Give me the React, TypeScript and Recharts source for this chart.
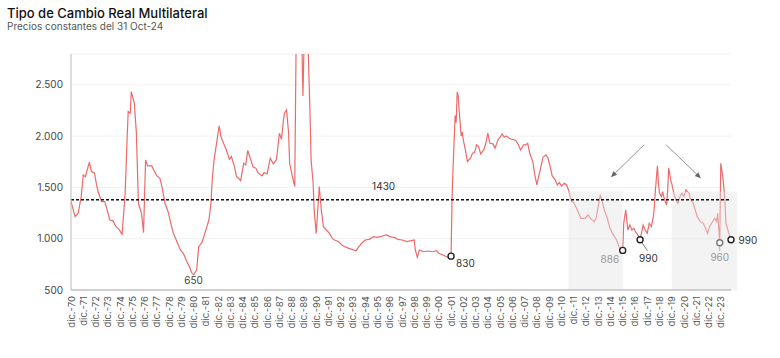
import React from "react";
import {
  CartesianGrid,
  Line,
  LineChart,
  ReferenceArea,
  ReferenceDot,
  ReferenceLine,
  XAxis,
  YAxis,
} from "recharts";

// [meses desde dic-70, índice]
const tramo70a81: [number, number][] = [
  [0, 1361], [4, 1215], [7, 1248], [10, 1410], [12, 1621], [14, 1605], [18, 1745], [20, 1654],
  [23, 1638], [25, 1524], [27, 1443], [30, 1361], [33, 1361], [35, 1296], [38, 1182], [41, 1176],
  [44, 1117], [47, 1091], [50, 1043], [53, 1443], [55, 1996], [56, 2239], [58, 2223], [59, 2434],
  [62, 2321], [64, 2028], [66, 1345], [69, 1248], [71, 1059], [72, 1410], [73, 1768], [75, 1709],
  [79, 1709], [81, 1670], [84, 1612], [87, 1589], [89, 1508], [92, 1345], [95, 1264], [97, 1182],
  [100, 1059], [103, 987], [107, 890], [110, 857], [113, 786], [116, 727], [118, 670], [120, 648],
  [123, 695], [125, 922], [128, 961],
];

const tramo81a91: [number, number][] = [
  [130, 1020], [133, 1117], [135, 1182], [137, 1345], [138, 1540], [140, 1768], [142, 1898],
  [145, 2100], [147, 1989], [150, 1914], [152, 1865], [155, 1774], [157, 1800], [160, 1703],
  [162, 1605], [164, 1589], [166, 1566], [169, 1735], [171, 1719], [173, 1859], [176, 1768],
  [178, 1703], [181, 1686], [183, 1644], [187, 1612], [189, 1644], [192, 1631], [195, 1784],
  [198, 1729], [201, 1768], [203, 1937], [204, 2028], [206, 1969], [208, 2158], [209, 2223],
  [211, 2256], [213, 2028], [214, 1735], [217, 1589], [219, 1508], [221, 3600], [223, 4500],
  [225, 3700], [226, 2900], [227, 2390], [229, 3300], [230, 4100], [231, 3500], [232, 2900],
  [234, 2200], [235, 1768], [237, 1540], [238, 1280], [240, 1052], [243, 1508], [245, 1280],
  [247, 1117], [250, 1085], [253, 1052], [256, 1000],
];

const tramo91a01: [number, number][] = [
  [258, 987], [262, 971], [265, 939], [268, 922], [272, 906], [275, 896], [279, 883], [281, 913],
  [285, 961], [288, 987], [292, 994], [296, 1020], [300, 1013], [305, 1026], [309, 1036],
  [312, 1020], [317, 1010], [320, 994], [324, 987], [329, 971], [333, 981], [336, 987], [337, 890],
  [339, 818], [341, 890], [345, 873], [349, 880], [354, 873], [358, 883], [360, 857], [364, 841],
  [369, 818], [372, 830],
];

const tramo02a11: [number, number][] = [
  [373, 1400], [374, 1700], [375, 1950], [376, 2200], [377, 2130], [378, 2430], [379, 2390],
  [380, 2240], [381, 2110], [382, 2000], [383, 2040], [384, 1960], [386, 1865], [388, 1752],
  [391, 1784], [393, 1833], [395, 1839], [397, 1914], [399, 1898], [401, 1826], [404, 1865],
  [406, 1930], [408, 2028], [410, 1930], [413, 1924], [415, 1882], [418, 1963], [420, 1989],
  [422, 2021], [424, 1989], [426, 2002], [429, 1979], [431, 1969], [434, 1963], [436, 1947],
  [438, 1914], [440, 1865], [443, 1914], [445, 1914], [447, 1930], [449, 1833], [452, 1752],
  [454, 1622], [456, 1524], [457, 1573], [460, 1703], [462, 1794], [465, 1817], [467, 1784],
  [469, 1703], [471, 1612], [474, 1573], [476, 1524], [478, 1547], [480, 1514], [483, 1540],
  [485, 1524],
];

const tramo11a24: [number, number][] = [
  [487, 1475], [490, 1361], [492, 1352], [494, 1313], [497, 1248], [499, 1199], [503, 1199],
  [506, 1231], [509, 1190], [512, 1166], [514, 1199], [516, 1313], [518, 1426], [520, 1361],
  [522, 1280], [525, 1199], [527, 1117], [530, 1052], [532, 1020], [534, 987], [537, 906],
  [540, 886], [541, 1150], [543, 1280], [545, 1085], [547, 1134], [549, 1085], [551, 1101],
  [553, 1059], [555, 1036], [557, 990], [559, 1085], [560, 1134], [562, 1085], [564, 1052],
  [566, 1150], [568, 1117], [570, 1215], [571, 1313], [572, 1475], [574, 1710], [575, 1540],
  [576, 1443], [578, 1410], [579, 1459], [581, 1378], [583, 1329], [584, 1475], [585, 1690],
  [587, 1573], [588, 1540], [590, 1443], [592, 1378], [594, 1345], [596, 1410], [598, 1443],
  [600, 1410], [602, 1475], [605, 1443], [606, 1394], [609, 1345], [611, 1280], [613, 1215],
  [616, 1166], [619, 1150], [621, 1101], [623, 1052], [625, 1117], [627, 1150], [630, 1199],
  [632, 1166], [633, 1248], [635, 960], [636, 1735], [638, 1605], [640, 1378], [641, 1150],
  [644, 1052], [645, 1020], [646, 990],
];

const etiquetasX = [
  "dic.-70", "dic.-71", "dic.-72", "dic.-73", "dic.-74", "dic.-75", "dic.-76", "dic.-77", "dic.-78",
  "dic.-79", "dic.-80", "dic.-81", "dic.-82", "dic.-83", "dic.-84", "dic.-85", "dic.-86", "dic.-87",
  "dic.-88", "dic.-89", "dic.-90", "dic.-91", "dic.-92", "dic.-93", "dic.-94", "dic.-95", "dic.-96",
  "dic.-97", "dic.-98", "dic.-99", "dic.-00", "dic.-01", "dic.-02", "dic.-03", "dic.-04", "dic.-05",
  "dic.-06", "dic.-07", "dic.-08", "dic.-09", "dic.-10", "dic.-11", "dic.-12", "dic.-13", "dic.-14",
  "dic.-15", "dic.-16", "dic.-17", "dic.-18", "dic.-19", "dic.-20", "dic.-21", "dic.-22", "dic.-23",
];
const ticksY = [500, 1000, 1500, 2000, 2500];

const promedio = 1380;
const etiquetaPromedio = "1430";

// períodos con cepo cambiario
const cepos: [number, number][] = [
  [487, 540],
  [588, 652],
];
const topeCepo = 1460;

const puntosDestacados = [
  { mes: 120, valor: 648, texto: "650" },
  { mes: 372, valor: 830, texto: "830" },
  { mes: 540, valor: 886, texto: "886" },
  { mes: 557, valor: 990, texto: "990" },
  { mes: 635, valor: 960, texto: "960" },
  { mes: 646, valor: 990, texto: "990" },
];

const flechas = [
  { desde: [561, 1915], hasta: [528.5, 1600] },
  { desde: [582.5, 1915], hasta: [616.5, 1590] },
];

const serie = [...tramo70a81, ...tramo81a91, ...tramo91a01, ...tramo02a11, ...tramo11a24].map(
  ([mes, valor]) => ({ mes, valor })
);

// ajustes visuales de cada etiqueta (mismo orden que puntosDestacados)
const estiloEtiquetas = [
  { circulo: false, dx: 0, dy: 9.5, anchor: "middle", color: "#444" },
  { circulo: true, dx: 5, dy: 11, anchor: "start", color: "#333" },
  { circulo: true, dx: -3.5, dy: 12.5, anchor: "end", color: "#999" },
  { circulo: true, dx: -1, dy: 22, anchor: "start", color: "#333", guia: [1.5, 2.5, 7.5, 11] },
  { circulo: true, dx: 0, dy: 18, anchor: "middle", color: "#999", guia: [0, 3.5, 0, 8], gris: true },
  { circulo: true, dx: 7.5, dy: 4.5, anchor: "start", color: "#333" },
];

const FUENTE = "Inter, 'Noto Sans', sans-serif";

function miles(v: number) {
  if (v < 1000) return String(v);
  return `${Math.floor(v / 1000)}.${String(v % 1000).padStart(3, "0")}`;
}

function TickX(props: any) {
  const { x, y, payload } = props;
  const label = etiquetasX[Math.round(payload.value / 12)];
  return (
    <text
      x={x}
      y={y}
      dy={3.5}
      transform={`rotate(-90, ${x}, ${y})`}
      textAnchor="end"
      fontSize={9.5}
      fill="#555"
      fontFamily={FUENTE}
    >
      {label}
    </text>
  );
}

function Flecha(props: any) {
  const { x1, y1, x2, y2 } = props;
  const ang = Math.atan2(y2 - y1, x2 - x1);
  const L = 6;
  const W = 2.6;
  const bx = x2 - L * Math.cos(ang);
  const by = y2 - L * Math.sin(ang);
  const px = -Math.sin(ang) * W;
  const py = Math.cos(ang) * W;
  return (
    <g>
      <line x1={x1} y1={y1} x2={bx} y2={by} stroke="#888" strokeWidth={0.9} />
      <polygon points={`${x2},${y2} ${bx + px},${by + py} ${bx - px},${by - py}`} fill="#666" />
    </g>
  );
}

function marca(i: number, texto: string) {
  const e = estiloEtiquetas[i];
  return (props: any) => {
    const { cx, cy } = props;
    return (
      <g>
        {e.guia && (
          <line
            x1={cx + e.guia[0]}
            y1={cy + e.guia[1]}
            x2={cx + e.guia[2]}
            y2={cy + e.guia[3]}
            stroke={e.gris ? "#999" : "#555"}
            strokeWidth={0.8}
          />
        )}
        {e.circulo && (
          <circle cx={cx} cy={cy} r={3} fill="#fff" stroke={e.gris ? "#777" : "#222"} strokeWidth={1.4} />
        )}
        <text
          x={cx + e.dx}
          y={cy + e.dy}
          textAnchor={e.anchor as any}
          fontSize={10}
          fill={e.color}
          fontFamily={FUENTE}
        >
          {texto}
        </text>
      </g>
    );
  };
}

export default function App() {
  return (
    <div style={{ position: "relative", width: 780, height: 358, background: "#fff", fontFamily: FUENTE }}>
      <style>{"body{margin:0}"}</style>
      <div
        style={{
          position: "absolute",
          left: 7,
          top: 4.5,
          fontSize: 13,
          lineHeight: "16px",
          fontWeight: 500,
          color: "#111",
          zIndex: 2,
        }}
      >
        Tipo de Cambio Real Multilateral
      </div>
      <div
        style={{ position: "absolute", left: 7, top: 20, fontSize: 10, lineHeight: "12px", color: "#555", zIndex: 2 }}
      >
        Precios constantes del 31 Oct-24
      </div>
      <LineChart width={780} height={358} data={serie} margin={{ top: 54, right: 49, bottom: 28, left: 0 }}>
        <CartesianGrid stroke="#f1f1f1" vertical={false} />
        <XAxis
          dataKey="mes"
          type="number"
          domain={[0, 646]}
          ticks={etiquetasX.map((_, i) => i * 12)}
          interval={0}
          tick={<TickX />}
          tickLine={false}
          tickSize={4}
          tickMargin={2}
          height={40}
          axisLine={{ stroke: "#aaa" }}
        />
        <YAxis
          type="number"
          domain={[500, 2800]}
          allowDataOverflow
          ticks={ticksY}
          tickFormatter={miles}
          width={71}
          tickLine={false}
          axisLine={{ stroke: "#bbb" }}
          tick={{ fontSize: 10, fill: "#444", fontFamily: FUENTE }}
        />
        <Line
          dataKey="valor"
          type="linear"
          stroke="#ec6a6a"
          strokeWidth={1.2}
          dot={false}
          activeDot={false}
          isAnimationActive={false}
        />
        {cepos.map(([a, b]) => (
          <ReferenceArea
            key={a}
            x1={a}
            x2={b}
            y1={500}
            y2={topeCepo}
            fill="#e4e4e4"
            fillOpacity={0.45}
            stroke="none"
            ifOverflow="visible"
            zIndex={450}
          />
        ))}
        <ReferenceLine
          y={promedio}
          stroke="#111"
          strokeWidth={1.5}
          strokeDasharray="3 2"
          zIndex={460}
        />
        <ReferenceDot
          x={306}
          y={promedio}
          r={0}
          zIndex={470}
          shape={(p: any) => (
            <text x={p.cx} y={p.cy - 10} textAnchor="middle" fontSize={10} fill="#333" fontFamily={FUENTE}>
              {etiquetaPromedio}
            </text>
          )}
        />
        {flechas.map((f, i) => (
          <ReferenceLine
            key={i}
            segment={[
              { x: f.desde[0], y: f.desde[1] },
              { x: f.hasta[0], y: f.hasta[1] },
            ]}
            shape={<Flecha />}
            zIndex={470}
          />
        ))}
        {puntosDestacados.map((p, i) => (
          <ReferenceDot
            key={i}
            x={p.mes}
            y={p.valor}
            r={3}
            zIndex={480}
            shape={marca(i, p.texto)}
          />
        ))}
      </LineChart>
    </div>
  );
}
